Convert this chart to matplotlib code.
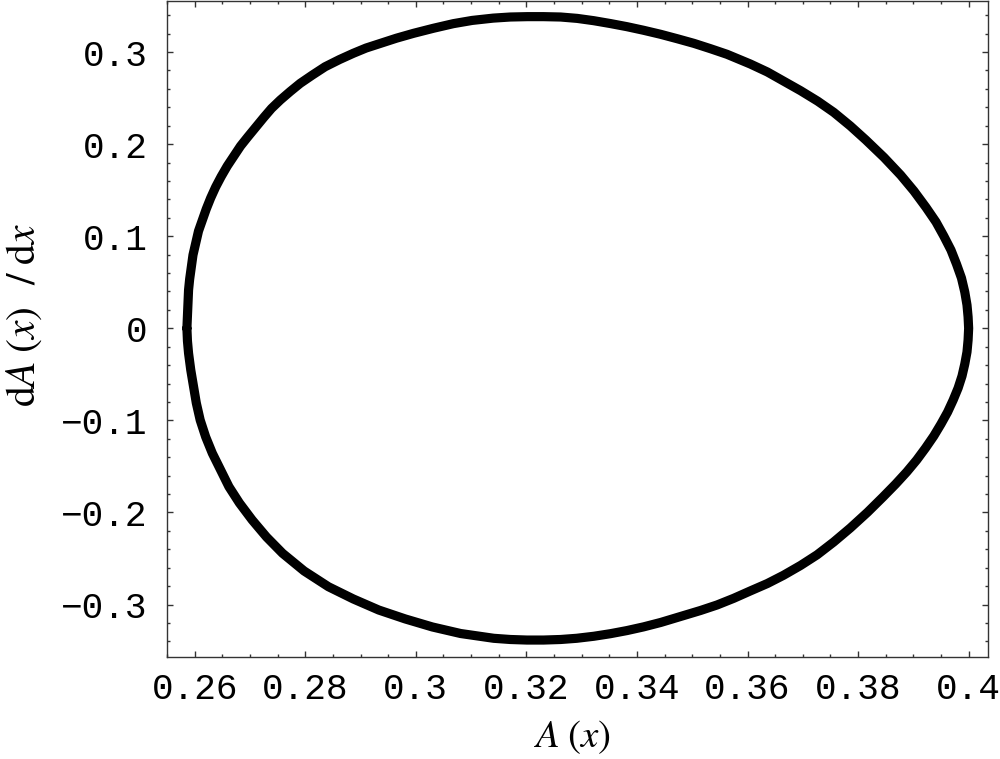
import numpy as np
import matplotlib
matplotlib.use("Agg")
import matplotlib.pyplot as plt
from matplotlib.ticker import FixedLocator, MultipleLocator

# ==========================================
# DATA (read off the phase portrait)
# ==========================================

# upper branch, dA/dx >= 0, from the left turning point to the right one
a_upper = [0.2586, 0.2587, 0.2588, 0.2589, 0.2591, 0.2594, 0.2597, 0.2602,
           0.2607, 0.2614, 0.2621, 0.2629, 0.2638, 0.2648, 0.2659, 0.2671,
           0.2683, 0.2696, 0.2710, 0.2725, 0.2739, 0.2755, 0.2773, 0.2791,
           0.2813, 0.2836, 0.2862, 0.2887, 0.2910, 0.2936, 0.2965, 0.2996,
           0.3032, 0.3068, 0.3102, 0.3140, 0.3171, 0.3202, 0.3231, 0.3262,
           0.3292, 0.3322, 0.3352, 0.3382, 0.3412, 0.3443, 0.3473, 0.3503,
           0.3533, 0.3563, 0.3605, 0.3636, 0.3665, 0.3696, 0.3727, 0.3756,
           0.3786, 0.3814, 0.3847, 0.3877, 0.3901, 0.3923, 0.3941, 0.3955,
           0.3968, 0.3978, 0.3987, 0.3993, 0.3997, 0.3999, 0.4000]
da_upper = [0.0000, 0.0144, 0.0286, 0.0416, 0.0535, 0.0666, 0.0796, 0.0926,
            0.1056, 0.1176, 0.1295, 0.1415, 0.1534, 0.1648, 0.1762, 0.1871,
            0.1979, 0.2077, 0.2180, 0.2289, 0.2387, 0.2479, 0.2572, 0.2660,
            0.2750, 0.2840, 0.2918, 0.2986, 0.3043, 0.3094, 0.3150, 0.3203,
            0.3258, 0.3308, 0.3343, 0.3368, 0.3380, 0.3384, 0.3384, 0.3380,
            0.3365, 0.3340, 0.3309, 0.3275, 0.3236, 0.3192, 0.3144, 0.3094,
            0.3036, 0.2975, 0.2870, 0.2783, 0.2685, 0.2580, 0.2466, 0.2345,
            0.2197, 0.2045, 0.1855, 0.1664, 0.1491, 0.1312, 0.1154, 0.1002,
            0.0850, 0.0698, 0.0546, 0.0394, 0.0253, 0.0123, 0.0000]

# lower branch, dA/dx <= 0, from the left turning point to the right one
a_lower = [0.2586, 0.2587, 0.2589, 0.2593, 0.2598, 0.2603, 0.2610, 0.2620,
           0.2632, 0.2647, 0.2662, 0.2681, 0.2704, 0.2730, 0.2759, 0.2798,
           0.2842, 0.2887, 0.2933, 0.2981, 0.3030, 0.3081, 0.3141, 0.3171,
           0.3201, 0.3231, 0.3262, 0.3291, 0.3322, 0.3352, 0.3382, 0.3412,
           0.3443, 0.3479, 0.3515, 0.3545, 0.3575, 0.3605, 0.3636, 0.3665,
           0.3696, 0.3726, 0.3756, 0.3786, 0.3817, 0.3845, 0.3868, 0.3888,
           0.3906, 0.3922, 0.3937, 0.3950, 0.3962, 0.3972, 0.3981, 0.3988,
           0.3993, 0.3997, 0.3999, 0.4000]
da_lower = [0.0000, -0.0138, -0.0271, -0.0453, -0.0634, -0.0811, -0.0996,
            -0.1180, -0.1357, -0.1539, -0.1720, -0.1897, -0.2081, -0.2266,
            -0.2443, -0.2635, -0.2806, -0.2939, -0.3059, -0.3156, -0.3243,
            -0.3314, -0.3366, -0.3379, -0.3385, -0.3385, -0.3379, -0.3366,
            -0.3344, -0.3316, -0.3282, -0.3242, -0.3194, -0.3129, -0.3064,
            -0.3004, -0.2932, -0.2852, -0.2771, -0.2682, -0.2575, -0.2459,
            -0.2320, -0.2168, -0.1998, -0.1832, -0.1691, -0.1560, -0.1430,
            -0.1300, -0.1169, -0.1039, -0.0909, -0.0779, -0.0648, -0.0518,
            -0.0388, -0.0257, -0.0127, 0.0000]

x_ticks = [0.26, 0.28, 0.30, 0.32, 0.34, 0.36, 0.38, 0.40]
x_labels = ["0.26", "0.28", "0.3", "0.32", "0.34", "0.36", "0.38", "0.4"]
y_ticks = [-0.3, -0.2, -0.1, 0.0, 0.1, 0.2, 0.3]
y_labels = ["\u22120.3", "\u22120.2", "\u22120.1", "0", "0.1", "0.2", "0.3"]

# ==========================================
# PLOT
# ==========================================

plt.rcParams["mathtext.fontset"] = "stix"

fig = plt.figure(figsize=(10, 7.59), dpi=100)
ax = fig.add_axes([0.167, 0.1344, 0.821, 0.8643])

# closed loop: upper branch left->right, then lower branch right->left
loop_a = np.concatenate([a_upper, a_lower[::-1]])
loop_da = np.concatenate([da_upper, da_lower[::-1]])
ax.plot(loop_a, loop_da, color="black", lw=6.6,
        solid_joinstyle="round", solid_capstyle="round")

ax.set_xlim(0.2550, 0.4035)
ax.set_ylim(-0.3569, 0.3554)

ax.xaxis.set_major_locator(FixedLocator(x_ticks))
ax.set_xticklabels(x_labels)
ax.yaxis.set_major_locator(FixedLocator(y_ticks))
ax.set_yticklabels(y_labels)
ax.xaxis.set_minor_locator(MultipleLocator(0.005))
ax.yaxis.set_minor_locator(MultipleLocator(0.02))

ax.tick_params(which="both", direction="in", top=True, right=True,
               color="#333333", width=1.0)
ax.tick_params(which="major", length=4.5)
ax.tick_params(which="minor", length=2.4)
ax.tick_params(axis="y", which="major", pad=14)
ax.tick_params(axis="x", which="major", pad=11)

for lab in ax.get_xticklabels() + ax.get_yticklabels():
    lab.set_family("Liberation Mono")
    lab.set_fontsize(26)

for sp in ax.spines.values():
    sp.set_color("#333333")
    sp.set_linewidth(1.0)

# axis titles placed like the original (Mathematica style)
fig.text(0.572, 0.029, r"$A\;(x)$", fontsize=28, ha="center", va="center")
fig.text(0.023, 0.585, r"$\mathrm{d}A\;(x)\;\;\,/\;\mathrm{d}x$", fontsize=30,
         ha="center", va="center", rotation=90)

fig.savefig("out.png", dpi=100)
